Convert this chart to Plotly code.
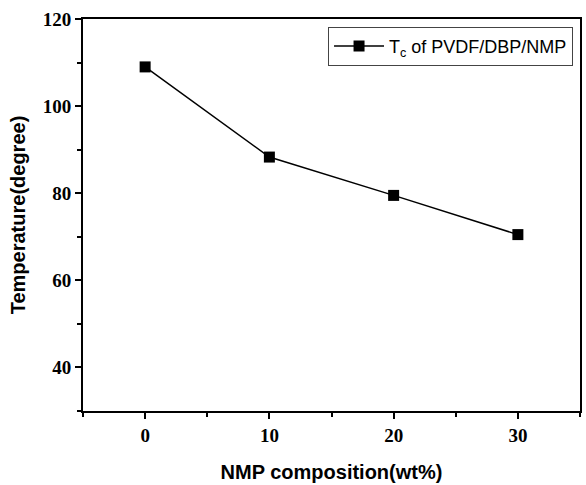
import plotly.graph_objects as go

nmp = [0, 10, 20, 30]
tc = [109.0, 88.3, 79.5, 70.5]
x_ticks = [0, 10, 20, 30]
y_ticks = [40, 60, 80, 100, 120]

fig = go.Figure()
fig.add_trace(go.Scatter(
    x=nmp, y=tc, mode="lines+markers",
    name="T<sub>c</sub> of PVDF/DBP/NMP",
    line=dict(color="black", width=1.5),
    marker=dict(symbol="square", size=11, color="black"),
))

tickfont = dict(family="Liberation Serif", size=19, color="black")
titlefont = dict(family="Liberation Sans", size=20, color="black")

fig.update_layout(
    width=586, height=485,
    margin=dict(l=83, r=4, t=19, b=74),
    paper_bgcolor="white", plot_bgcolor="white",
    showlegend=True,
    legend=dict(
        x=0.986, y=0.98, xanchor="right", yanchor="top",
        bordercolor="#444", borderwidth=1, bgcolor="white",
        font=dict(family="Liberation Sans", size=18, color="black"),
        itemwidth=50,
    ),
    xaxis=dict(
        range=[-5, 35], tickvals=x_ticks, ticktext=[f"<b>{v}</b>" for v in x_ticks],
        ticks="outside", ticklen=6, tickwidth=1.5, tickcolor="black",
        minor=dict(tickvals=[-5, 5, 15, 25, 35], ticks="outside", ticklen=4, tickwidth=1.5, tickcolor="black"),
        showline=True, linecolor="black", linewidth=2, mirror=True,
        showgrid=False, zeroline=False, tickfont=tickfont,
        title=dict(text="<b>NMP composition(wt%)</b>", font=titlefont, standoff=20),
    ),
    yaxis=dict(
        range=[30, 120], tickvals=y_ticks, ticktext=[f"<b>{v}</b>" for v in y_ticks],
        ticks="outside", ticklen=6, tickwidth=1.5, tickcolor="black",
        minor=dict(tickvals=[30, 50, 70, 90, 110], ticks="outside", ticklen=4, tickwidth=1.5, tickcolor="black"),
        showline=True, linecolor="black", linewidth=2, mirror=True,
        showgrid=False, zeroline=False, tickfont=tickfont,
        title=dict(text="<b>Temperature(degree)</b>", font=titlefont, standoff=12),
    ),
)

fig.write_html("out.html", config={"displayModeBar": False},
               post_script="document.body.style.margin='0';document.body.style.overflow='hidden';")
